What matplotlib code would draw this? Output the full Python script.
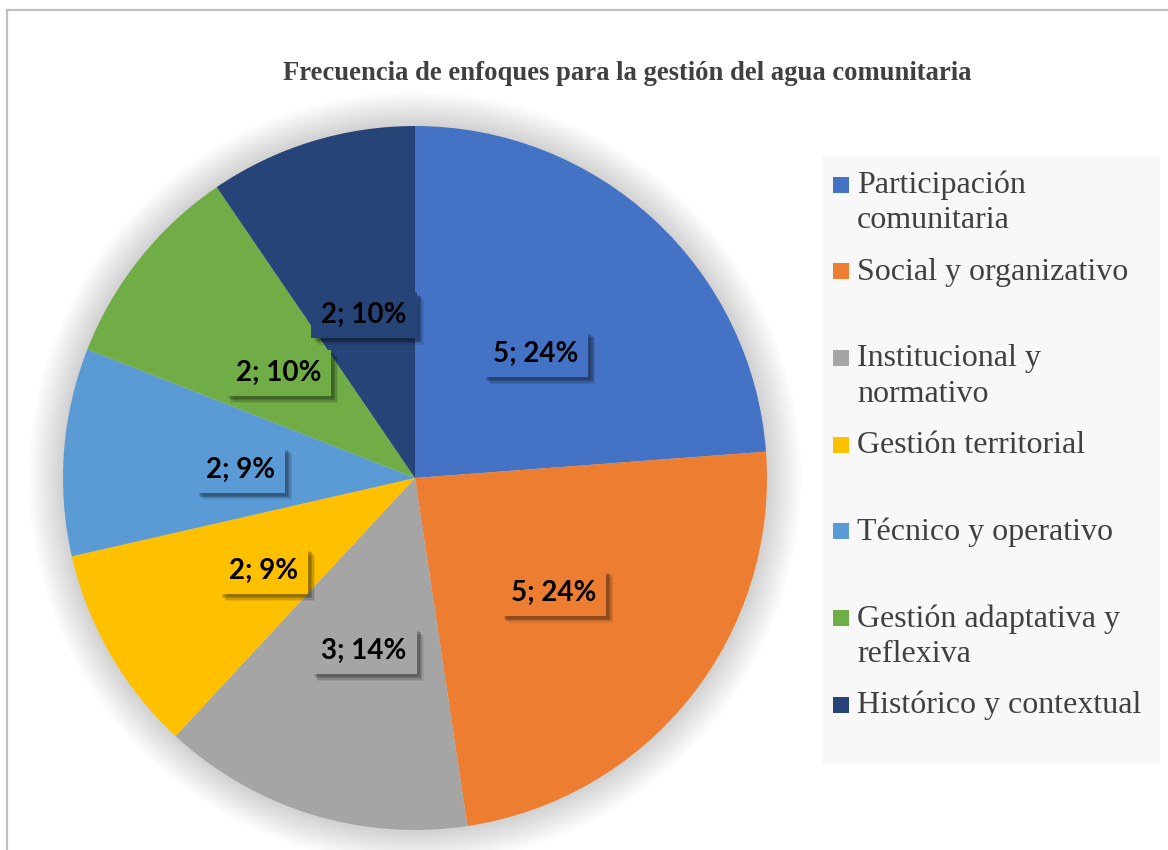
import matplotlib
matplotlib.use("Agg")
import matplotlib.pyplot as plt
import numpy as np
from matplotlib.patches import Rectangle, Circle
from matplotlib.lines import Line2D
import matplotlib.patheffects as pe
import matplotlib.transforms as mtransforms

# ---- data ----
title = "Frecuencia de enfoques para la gestión del agua comunitaria"
categories = ["Participación\ncomunitaria", "Social y organizativo", "Institucional y\nnormativo",
              "Gestión territorial", "Técnico y operativo", "Gestión adaptativa y\nreflexiva",
              "Histórico y contextual"]
values = [5, 5, 3, 2, 2, 2, 2]
data_labels = ["5; 24%", "5; 24%", "3; 14%", "2; 9%", "2; 9%", "2; 10%", "2; 10%"]
colors = ["#4472C4", "#ED7D31", "#A5A5A5", "#FFC000", "#5B9BD5", "#70AD47", "#264478"]

W, H = 1168, 850
fig = plt.figure(figsize=(W / 100, H / 100), dpi=100)
fig.patch.set_facecolor("white")

def fx(px):
    return px / W

def fy(py):
    return 1 - py / H

# outer border (top and left visible)
fig.add_artist(Line2D([fx(6.5), 1.0], [fy(9.5), fy(9.5)], color="#c0c0c0", lw=1.6, transform=fig.transFigure))
fig.add_artist(Line2D([fx(6.5), fx(6.5)], [0, fy(9.5)], color="#c0c0c0", lw=1.6, transform=fig.transFigure))

# pie axes: center (415,478), radius 352
cx, cy, r = 415, 478, 352
ax = fig.add_axes([fx(cx - r), fy(cy + r), 2 * r / W, 2 * r / H])

wedges, _ = ax.pie(values, colors=colors, startangle=90, counterclock=False, radius=1,
                   wedgeprops=dict(linewidth=0))
ax.set_xlim(-1, 1)
ax.set_ylim(-1, 1)
ax.set_aspect("equal", adjustable="box")
ax.axis("off")
for w in wedges:
    w.set_zorder(2)

# soft glow shadow
for k in range(1, 16):
    ax.add_patch(Circle((0, 0), 1 + k * 0.0065, facecolor="black", alpha=0.011,
                        edgecolor="none", zorder=0, clip_on=False))

shadow = [pe.SimplePatchShadow(offset=(d, -d), shadow_rgbFace="black", alpha=a)
          for d, a in [(5, 0.08), (4, 0.12), (3, 0.16), (2, 0.12)]] + [pe.Normal()]

label_tr = mtransforms.offset_copy(ax.transData, fig=fig, x=1, y=-5, units="dots")
for w, lab, c in zip(wedges, data_labels, colors):
    th = np.deg2rad((w.theta1 + w.theta2) / 2)
    x, y = 0.5 * np.cos(th), 0.5 * np.sin(th)
    t = ax.text(x, y, lab, transform=label_tr, ha="center", va="center", fontsize=20,
                fontfamily="Lato", fontweight="bold", color="black", zorder=4,
                bbox=dict(boxstyle="square,pad=0.36", facecolor=c, edgecolor="none"))
    t.get_bbox_patch().set_path_effects(shadow)

# title
fig.text(fx(627), fy(74), title, ha="center", va="center", fontsize=19.2,
         fontfamily="Liberation Serif", fontweight="bold", color="#404040")

# legend
fig.add_artist(Rectangle((fx(822), fy(765)), fx(1160) - fx(822), fy(155) - fy(765),
                         transform=fig.transFigure, facecolor="#f8f8f8", edgecolor="none"))
for i, (lab, c) in enumerate(zip(categories, colors)):
    base = 193 + i * 86.7
    fig.add_artist(Rectangle((fx(833), fy(base - 0.5)), fx(849) - fx(833), fy(base - 16.5) - fy(base - 0.5),
                             transform=fig.transFigure, facecolor=c, edgecolor="none"))
    for j, line in enumerate(lab.split("\n")):
        fig.text(fx(857), fy(base + j * 35.5), line, ha="left", va="baseline", fontsize=23,
                 fontfamily="Liberation Serif", color="#404040")

fig.savefig("out.png", dpi=100)
